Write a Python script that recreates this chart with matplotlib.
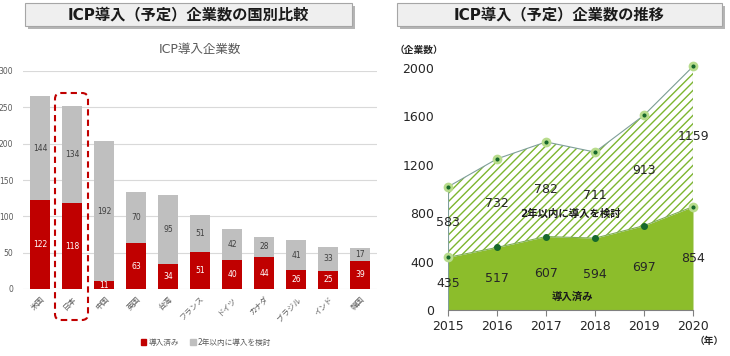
import matplotlib.pyplot as plt
from matplotlib.patches import FancyBboxPatch, Patch

plt.rcParams['font.family'] = ['DejaVu Sans', 'Noto Sans CJK JP']
plt.rcParams['hatch.linewidth'] = 1.0

# left chart data
countries = ['米国', '日本', '中国', '英国', '台湾', 'フランス', 'ドイツ', 'カナダ', 'ブラジル', 'インド', '韓国']
adopted = [122, 118, 11, 63, 34, 51, 40, 44, 26, 25, 39]
planned = [144, 134, 192, 70, 95, 51, 42, 28, 41, 33, 17]

# right chart data
years = [2015, 2016, 2017, 2018, 2019, 2020]
adopted_trend = [435, 517, 607, 594, 697, 854]
planned_trend = [583, 732, 782, 711, 913, 1159]

RED = '#c00000'
GRAY = '#bfbfbf'
GREEN = '#8cbd2b'
DARK_GREEN = '#17692c'

fig = plt.figure(figsize=(7.3, 3.56), dpi=100)

# title boxes
def title_box(x0, x1, text):
    shadow = FancyBboxPatch((x0 + 0.03, 3.27), x1 - x0, 0.23, boxstyle='square,pad=0',
                            transform=fig.dpi_scale_trans, facecolor='#b5b5b5', edgecolor='none')
    box = FancyBboxPatch((x0, 3.30), x1 - x0, 0.23, boxstyle='square,pad=0',
                         transform=fig.dpi_scale_trans, facecolor='#efefef', edgecolor='#a6a6a6', lw=0.8)
    fig.add_artist(shadow)
    fig.add_artist(box)
    fig.text((x0 + x1) / 2, 3.415, text, transform=fig.dpi_scale_trans, ha='center', va='center',
             fontsize=11, fontweight='bold', color='#1a1a1a')

title_box(0.25, 3.52, 'ICP導入（予定）企業数の国別比較')
title_box(3.97, 7.22, 'ICP導入（予定）企業数の推移')

# ---- left: stacked bars
ax1 = fig.add_axes([23 / 730, 67 / 356, 354 / 730, 218 / 356])
x = range(len(countries))
ax1.bar(x, adopted, width=0.6, color=RED, zorder=2)
ax1.bar(x, planned, width=0.6, bottom=adopted, color=GRAY, zorder=2)
for i in x:
    ax1.text(i, adopted[i] / 2, str(adopted[i]), ha='center', va='center', fontsize=5.5, color='white')
    ax1.text(i, adopted[i] + planned[i] / 2, str(planned[i]), ha='center', va='center',
             fontsize=5.5, color='#404040')
ax1.set_xlim(-0.53, 10.53)
ax1.set_ylim(0, 300)
ax1.set_yticks(range(0, 301, 50))
ax1.grid(axis='y', color='#d9d9d9', lw=0.8, zorder=0)
ax1.set_xticks(list(x))
ax1.set_xticklabels(countries, rotation=45, ha='right', rotation_mode='anchor')
ax1.tick_params(axis='both', length=0, labelsize=5.5, colors='#595959')
ax1.tick_params(axis='y', pad=7)
ax1.tick_params(axis='x', pad=4)
for s in ax1.spines.values():
    s.set_visible(False)
ax1.set_title('ICP導入企業数', fontsize=9, color='#595959', pad=13)

# highlight box around Japan
hl = FancyBboxPatch((0.55, 0.36), 0.33, 2.27, boxstyle='round,pad=0,rounding_size=0.06',
                    transform=fig.dpi_scale_trans, facecolor='none', edgecolor=RED,
                    lw=1.5, linestyle=(0, (3, 2)))
fig.add_artist(hl)

handles = [Patch(color=RED, label='導入済み'), Patch(color=GRAY, label='2年以内に導入を検討')]
fig.legend(handles=handles, loc='center', bbox_to_anchor=(206 / 730, 14 / 356), ncol=2,
           fontsize=5.5, frameon=False, handlelength=0.7, handleheight=0.7, handletextpad=0.3,
           columnspacing=1.5, labelcolor='#595959')

# ---- right: stacked area
ax2 = fig.add_axes([448 / 730, 46 / 356, 245 / 730, 242 / 356])
totals = [a + p for a, p in zip(adopted_trend, planned_trend)]
ax2.fill_between(years, 0, adopted_trend, color=GREEN, lw=0, zorder=1)
ax2.fill_between(years, adopted_trend, totals, facecolor='white', edgecolor='#7db52f',
                 hatch='////', lw=0, zorder=1)
ax2.plot(years, totals, color='#7f9f9a', lw=0.8, zorder=2)
ax2.plot(years, adopted_trend, color='#7fae55', lw=0.8, zorder=2)
ax2.plot([years[0]] * 2, [0, totals[0]], color='#7f9f9a', lw=0.8, zorder=2)
ax2.plot([years[-1]] * 2, [0, totals[-1]], color='#7f9f9a', lw=0.8, zorder=2)

ax2.plot(years, totals, 'o', ms=5, color=DARK_GREEN, mec='#b8dc8c', mew=2, zorder=3, clip_on=False)
ax2.plot(years, adopted_trend, 'o', ms=4, color=DARK_GREEN, mec=DARK_GREEN, zorder=3, clip_on=False)
for i in (0, len(years) - 1):
    ax2.plot(years[i], adopted_trend[i], 'o', ms=5, color=DARK_GREEN, mec='#b8dc8c', mew=2,
             zorder=3, clip_on=False)

for yr, a, p in zip(years, adopted_trend, planned_trend):
    ax2.text(yr, a / 2, str(a), ha='center', va='center', fontsize=9, color='#262626', zorder=4)
    ax2.text(yr, a + p / 2, str(p), ha='center', va='center', fontsize=9, color='#262626', zorder=4)

ax2.text(2017.49, 793, '2年以内に導入を検討', ha='center', va='center', fontsize=7.5,
         fontweight='bold', color='#1a1a1a', zorder=4)
ax2.text(2017.53, 107, '導入済み', ha='center', va='center', fontsize=7.5,
         fontweight='bold', color='#1a1a1a', zorder=4)

ax2.set_xlim(2015, 2020)
ax2.set_ylim(0, 2000)
ax2.set_xticks(years)
ax2.set_yticks(range(0, 2001, 400))
ax2.tick_params(axis='y', length=0, pad=10, labelsize=9, colors='#262626')
ax2.tick_params(axis='x', length=4, color='#808080', labelsize=9, labelcolor='#262626')
for s in ('left', 'top', 'right'):
    ax2.spines[s].set_visible(False)
ax2.spines['bottom'].set_color('#808080')

fig.text(395 / 730, 1 - 50 / 356, '（企業数）', ha='left', va='center', fontsize=7, fontweight='bold',
         color='#262626')
fig.text(709 / 730, 1 - 341 / 356, '（年）', ha='center', va='center', fontsize=7, fontweight='bold',
         color='#262626')

fig.savefig('out.png', dpi=100)
